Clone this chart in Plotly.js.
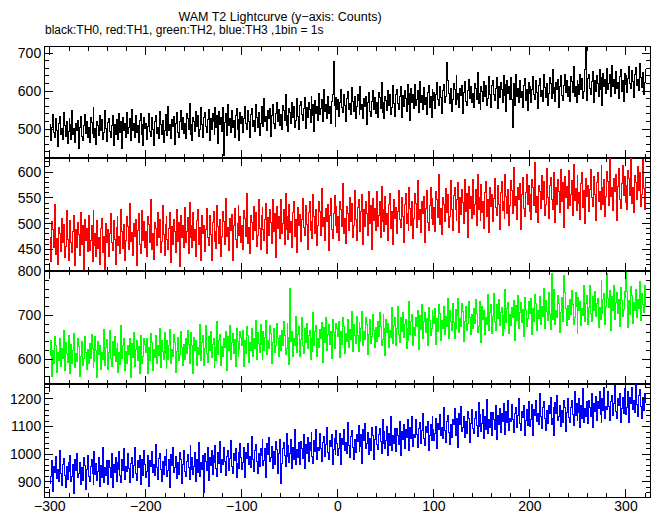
<!DOCTYPE html>
<html>
<head>
<meta charset="utf-8">
<script src="https://cdn.plot.ly/plotly-3.0.1.min.js"></script>
<style>
html,body{margin:0;padding:0;background:#fff;}
#chart{width:652px;height:515px;}
#chart .scatterlayer path{shape-rendering:crispEdges !important;}
</style>
</head>
<body>
<div id="chart"></div>
<script>
// time bins: 1 bin = 1 s, first bin at t = -300 s
const binStart = -300;
const binSize = 1;

const th0 = [
512,469,505,538,492,478,527,497,455,516,533,486,502,473,544,509,482,521,462,494,
528,512,474,549,487,502,465,516,496,523,449,505,533,482,469,509,538,489,520,478,
505,466,530,517,489,558,477,503,461,521,510,483,536,497,526,472,490,548,501,467,
517,529,493,477,510,537,456,513,485,526,506,472,542,490,520,448,531,496,515,479,
544,488,505,528,471,553,496,516,479,537,491,509,466,523,541,485,512,458,532,502,
515,472,508,541,495,481,530,500,458,519,536,489,505,476,547,512,485,524,465,497,
538,522,484,559,497,512,475,526,506,533,459,515,543,492,479,519,548,499,530,488,
515,476,540,527,499,568,487,513,471,531,520,493,546,507,536,482,500,558,511,477,
532,544,508,492,525,552,471,528,500,541,521,487,557,505,535,463,546,511,530,494,
557,430,518,541,484,566,509,529,492,550,504,522,479,536,554,498,525,471,545,515,
534,491,527,560,514,500,549,519,477,538,555,508,524,495,566,531,504,543,484,516,
560,544,506,581,519,534,497,548,528,555,481,537,565,514,501,541,570,521,552,510,
538,499,563,550,522,591,510,536,494,554,543,516,569,530,559,505,523,581,534,500,
562,574,538,522,555,582,501,558,530,571,551,517,587,535,565,493,576,541,560,524,
594,538,555,578,521,603,546,566,529,587,541,559,516,573,591,678,562,508,582,552,
577,534,570,603,557,543,592,562,520,581,598,551,567,538,609,574,547,586,527,559,
592,576,538,613,551,566,529,580,560,587,513,569,597,546,533,573,602,553,584,542,
571,532,596,583,555,624,543,569,527,587,576,549,602,563,592,538,556,614,567,533,
592,604,568,552,585,612,531,588,560,601,581,547,617,565,595,523,606,571,590,554,
617,561,578,601,544,626,569,589,552,610,564,582,539,596,614,558,585,531,605,575,
597,554,590,623,577,563,612,582,540,601,618,571,587,676,629,594,567,606,547,579,
620,604,566,641,579,594,557,608,588,615,541,597,625,574,561,601,630,581,612,570,
595,556,620,607,579,648,567,593,551,611,600,573,626,587,616,562,580,638,591,557,
615,627,591,575,608,635,554,611,583,624,604,570,640,588,618,546,629,594,613,577,
635,579,505,619,562,644,587,607,570,628,582,600,557,614,632,576,603,549,623,593,
612,569,605,638,592,578,627,597,555,616,633,586,602,573,644,609,582,621,562,594,
635,619,581,656,594,609,572,623,603,630,556,612,640,589,576,616,645,596,627,585,
613,574,638,625,597,666,585,611,569,629,618,591,644,605,634,580,598,656,722,575,
632,644,608,592,625,652,571,628,600,641,621,587,657,605,635,563,646,611,630,594,
659,603,620,643,586,668,611,631,594,652,606,624,581,638,656,600,627,573,647,617,
640,597,633,666,620,606,655,625,583,644,661,614,630,601,672,637,610,649,590,622,658
];

const th1 = [
474,427,504,488,454,537,440,471,421,493,480,447,511,464,499,434,456,525,469,428,
492,507,464,444,484,516,419,488,454,503,479,438,522,460,496,410,509,467,490,447,
515,448,468,496,427,526,457,481,437,506,451,473,421,490,511,444,476,412,500,464,
488,437,480,520,464,448,506,470,420,493,514,457,476,442,527,485,452,499,428,467,
514,495,449,539,465,483,438,500,476,508,419,486,520,459,443,491,526,467,504,454,
484,437,514,498,464,547,450,481,431,503,490,457,521,474,509,444,466,535,479,438,
498,513,470,450,490,522,425,494,460,509,485,444,528,466,502,416,515,473,496,453,
531,464,484,512,443,542,473,497,453,522,467,489,437,506,527,460,492,428,516,480,
497,446,489,529,473,457,515,479,429,502,523,466,485,451,536,494,461,508,437,476,
524,505,459,549,475,493,448,510,486,518,429,496,530,469,453,501,536,477,514,464,
496,449,526,510,476,559,462,493,443,515,502,469,533,486,521,456,478,547,491,450,
516,531,488,468,508,540,443,512,478,527,503,462,546,484,520,434,533,491,514,471,
547,480,500,528,459,558,489,513,469,538,483,505,453,522,543,476,508,444,532,496,
517,466,509,549,493,477,535,499,449,522,543,486,505,471,556,514,481,528,457,496,
543,524,478,568,494,512,467,529,505,537,448,515,549,488,472,520,555,496,533,483,
514,467,544,528,494,577,480,511,461,533,520,487,551,504,539,474,496,565,509,468,
532,547,504,484,524,556,459,528,494,543,519,478,562,500,536,450,549,507,530,487,
562,495,515,543,474,573,504,528,484,553,498,520,468,537,558,491,523,459,547,511,
532,481,524,564,508,492,550,514,464,537,558,501,520,486,571,529,496,543,472,511,
558,539,493,583,509,527,482,544,520,552,463,530,564,503,487,535,570,511,548,498,
532,485,562,546,512,595,498,529,479,551,538,505,569,522,557,492,514,583,527,486,
555,570,527,507,547,579,482,551,517,566,542,501,585,523,559,473,572,530,553,510,
585,518,538,566,497,596,527,551,507,576,521,543,491,560,581,514,546,482,570,534,
556,505,548,588,532,516,574,538,488,561,582,525,544,510,595,553,520,567,496,535,
584,565,519,609,535,553,508,570,546,578,489,556,590,529,513,561,596,537,574,524,
556,509,586,570,536,619,522,553,503,575,562,529,593,546,581,516,538,607,551,510,
575,590,547,527,567,599,502,571,537,586,562,521,605,543,579,493,592,550,573,530,
603,536,556,584,515,614,545,569,525,594,539,561,509,578,599,532,564,500,588,552,
574,523,566,606,550,534,592,556,506,579,600,543,562,528,613,571,538,585,514,553,
601,582,536,626,552,570,525,587,563,595,506,573,607,546,530,578,613,554,591,541,
574,527,604,588,554,637,540,571,521,593,580,547,611,564,599,534,556,625,569,528,590
];

const th2 = [
609,642,560,620,590,652,632,569,616,597,647,583,624,602,665,575,637,612,593,655,
603,568,633,590,620,658,580,612,595,646,628,560,607,640,586,601,652,616,576,623,
590,636,602,656,624,580,594,651,620,558,640,610,632,576,616,600,668,586,627,645,
576,614,666,602,582,641,609,652,594,624,636,570,616,587,677,601,632,646,575,618,
591,631,610,648,557,636,603,660,583,621,643,597,628,566,655,625,589,606,646,633,
615,648,566,626,596,658,638,575,622,603,653,589,630,608,671,581,643,618,599,661,
613,578,643,600,630,668,590,622,605,656,638,570,617,650,596,611,662,626,586,633,
600,646,612,666,634,590,604,661,630,568,650,620,642,586,626,610,678,596,637,655,
586,624,676,612,592,651,619,662,604,634,646,580,626,597,687,611,642,656,585,628,
607,647,626,664,573,652,619,676,599,637,659,613,644,582,671,641,605,622,662,649,
632,665,583,643,613,675,655,592,639,620,670,606,647,625,688,598,660,635,616,678,
633,598,663,620,650,688,610,642,625,676,658,590,637,670,616,631,682,646,606,653,
620,666,632,686,654,610,624,681,650,588,762,640,662,606,646,630,698,616,657,675,
606,644,696,632,612,671,639,682,624,654,666,600,646,617,707,631,662,676,605,648,
627,667,646,684,593,672,639,696,619,657,679,633,664,602,691,661,625,642,682,669,
652,685,603,663,633,695,675,612,659,640,690,626,667,645,708,618,680,655,636,698,
653,618,683,640,670,708,630,662,645,696,678,610,657,690,636,651,702,666,626,673,
640,686,652,706,674,630,644,701,670,608,690,660,682,626,666,650,718,636,677,695,
631,669,721,657,637,696,664,707,649,679,691,625,671,642,732,656,687,701,630,673,
655,695,674,712,621,700,667,724,647,685,707,661,692,630,719,689,653,670,710,697,
682,715,633,693,663,725,705,642,689,670,720,656,697,675,738,648,710,685,666,728,
683,648,713,670,700,738,660,692,675,726,708,640,687,720,666,681,732,696,656,703,
670,716,682,736,704,660,674,731,700,638,720,690,712,656,696,680,748,666,707,725,
659,697,749,685,665,724,692,735,677,707,719,653,699,670,760,684,715,729,658,701,
677,717,696,734,643,722,689,746,669,707,729,683,714,652,741,711,675,692,732,719,
705,738,656,716,686,748,728,665,712,693,743,679,720,698,761,671,733,708,689,751,
703,668,796,690,720,758,680,712,695,746,728,660,707,740,686,790,752,716,676,723,
690,736,702,756,724,680,694,751,720,658,740,710,732,676,716,700,768,686,727,745,
679,717,769,705,685,744,712,755,697,727,739,673,719,690,780,704,735,749,678,721,
795,739,718,756,665,744,711,768,691,729,751,705,736,674,763,733,697,714,754,741,
797,755,673,733,703,765,745,682,729,710,760,696,737,715,778,688,750,725,706,768,720
];

const th3 = [
895,919,976,864,956,934,990,913,943,902,1014,930,888,964,984,924,880,954,907,970,
938,996,900,920,962,858,980,940,1004,914,930,970,891,950,906,987,960,873,944,994,
919,901,955,979,930,889,1011,925,967,906,936,987,882,960,915,1023,899,951,923,977,
892,976,950,916,1001,878,964,934,989,902,971,944,1008,923,896,980,940,1020,910,954,
937,1001,947,898,967,988,915,959,1023,931,905,976,952,995,889,941,982,923,1012,964,
915,939,996,884,976,954,1010,933,963,922,1034,950,908,984,1004,944,900,974,927,990,
958,1016,920,940,982,878,1000,960,1024,934,950,990,911,970,926,1007,980,893,964,1014,
939,921,975,999,950,909,1031,945,987,926,956,1007,902,980,935,1043,919,971,943,997,
862,1001,975,941,1026,903,989,959,1014,927,996,969,1033,948,921,1005,965,1045,935,979,
962,1026,972,923,992,1013,940,984,1048,956,930,1001,977,1020,914,966,1007,948,1037,989,
945,969,1026,914,1006,984,1040,963,993,952,1064,980,938,1014,1034,974,930,1004,957,1020,
996,1054,958,978,1020,916,1038,998,1062,972,988,1028,949,1008,964,1045,1018,931,1002,1052,
895,966,1020,1044,995,954,1076,990,1032,971,1001,1052,947,1025,980,1088,964,1016,988,1042,
962,1046,1020,986,1071,948,1034,1004,1059,972,1041,1014,1078,993,966,1050,1010,1090,980,1024,
1012,1076,1022,973,1042,1063,990,1034,1098,1006,980,1051,1027,1070,964,1016,1057,998,1087,1039,
995,1019,1076,964,1056,1034,1090,1013,1043,1002,1114,1030,988,1064,1084,1024,980,1054,1007,1070,
1046,1104,1008,1028,1070,966,1088,1048,1112,1022,1038,1078,999,1058,1014,1095,1068,981,1052,1102,
1034,1016,1070,1094,1045,1004,1126,1040,1082,1021,1051,1102,997,1075,1030,1138,1014,1066,1038,1092,
1010,1094,1068,1034,1119,996,1082,1052,1107,1020,1089,1062,1126,1041,1014,1098,1058,1138,1028,1072,
1062,1126,1072,1023,1092,1113,1040,1084,1148,1056,1030,1101,1077,1120,1014,1066,1107,1048,1137,1089,
1050,1074,1131,1019,1111,1089,1145,1068,1098,1057,1169,1085,1043,1119,1139,1079,1035,1109,1062,1125,
1106,1164,1068,1088,1130,1026,1148,1108,1172,1082,1098,1138,1059,1118,1074,1155,1128,1041,1112,1162,
1094,1076,1130,1154,1105,1064,1186,1100,1142,1081,1111,1162,1057,1135,1090,1198,1074,1126,1098,1152,
1067,1151,1125,1091,1176,1053,1139,1109,1164,1077,1146,1119,1183,1098,1071,1155,1115,1195,1085,1129,
1117,1181,1127,1078,1147,1168,1095,1139,1203,1111,1085,1156,1132,1175,1069,1121,1162,1103,1192,1144,
1100,1124,1181,1069,1161,1139,1195,1118,1148,1107,1219,1135,1093,1169,1189,1129,1085,1159,1112,1175,
1146,1204,1108,1128,1170,1066,1188,1148,1212,1122,1138,1178,1099,1158,1114,1195,1168,1081,1152,1202,
1134,1116,1170,1194,1145,1104,1226,1140,1182,1121,1151,1202,1097,1175,1130,1238,1114,1166,1138,1192,
1112,1196,1170,1136,1221,1098,1184,1154,1209,1122,1191,1164,1228,1143,1116,1200,1160,1240,1130,1174,
1162,1226,1172,1123,1192,1213,1140,1184,1248,1156,1130,1201,1177,1220,1114,1166,1207,1148,1237,1189,
1145,1169,1226,1114,1206,1184,1240,1163,1193,1152,1264,1180,1138,1214,1234,1174,1130,1204,1157,1220,1186
];

const seriesData = [th0, th1, th2, th3];
const seriesColors = ['#000000', '#ff0000', '#00ff00', '#0000ff'];
const seriesNames = ['TH0', 'TH1', 'TH2', 'TH3'];

const xRange = [-305, 325];
const yRanges = [[425, 716], [408, 628], [543, 801], [845, 1254]];
const yDticks = [100, 50, 100, 100];
const yMinor = [20, 10, 20, 20];
const domains = [[0.754, 1.0], [0.502, 0.754], [0.251, 0.502], [0.0, 0.251]];

const titleText = 'WAM T2 Lightcurve (y\u2212axis: Counts)';
const subText = 'black:TH0, red:TH1, green:TH2, blue:TH3 ,1bin = 1s';

const FONT = 'Liberation Sans, Arial, Helvetica, sans-serif';

const traces = seriesData.map((d, i) => ({
  type: 'scatter', mode: 'lines',
  x0: binStart, dx: binSize, y: d,
  name: seriesNames[i],
  line: {color: seriesColors[i], width: 1, shape: 'hv'},
  xaxis: i === 0 ? 'x' : 'x' + (i + 1),
  yaxis: i === 0 ? 'y' : 'y' + (i + 1),
  showlegend: false, hoverinfo: 'skip'
}));

const layout = {
  width: 652, height: 515,
  margin: {l: 45, r: 2, t: 47, b: 18},
  paper_bgcolor: '#fff', plot_bgcolor: '#fff',
  font: {family: FONT, size: 14, color: '#000'},
  showlegend: false,
  title: {text: titleText, font: {family: FONT, size: 12.5, color: '#000'},
          x: 280 / 652, xanchor: 'center', xref: 'container',
          y: 1 - 17 / 515, yanchor: 'middle', yref: 'container'},
  annotations: [{text: subText, xref: 'paper', yref: 'paper',
                 x: -2 / 605, y: 1 + 17 / 450, xanchor: 'left', yanchor: 'middle',
                 showarrow: false, font: {family: FONT, size: 12, color: '#000'}}]
};

for (let i = 0; i < 4; i++) {
  const xk = i === 0 ? 'xaxis' : 'xaxis' + (i + 1);
  const yk = i === 0 ? 'yaxis' : 'yaxis' + (i + 1);
  layout[xk] = {
    range: xRange, anchor: i === 0 ? 'y' : 'y' + (i + 1),
    showgrid: false, zeroline: false, showline: true, linecolor: '#000', linewidth: 1,
    mirror: 'allticks', ticks: 'inside', ticklen: 8, tickcolor: '#000', tickwidth: 1,
    dtick: 100, tick0: 0, showticklabels: i === 3, ticklabelstandoff: -4,
    tickfont: {family: FONT, size: 14, color: '#000'},
    minor: {dtick: 20, tick0: 0, ticks: 'inside', ticklen: 4, tickcolor: '#000', showgrid: false},
    matches: i === 0 ? undefined : 'x'
  };
  layout[yk] = {
    range: yRanges[i], domain: domains[i], anchor: i === 0 ? 'x' : 'x' + (i + 1),
    showgrid: false, zeroline: false, showline: true, linecolor: '#000', linewidth: 1,
    mirror: 'allticks', ticks: 'inside', ticklen: 8, tickcolor: '#000', tickwidth: 1,
    dtick: yDticks[i], tick0: 0,
    tickfont: {family: FONT, size: 14, color: '#000'},
    minor: {dtick: yMinor[i], tick0: 0, ticks: 'inside', ticklen: 4, tickcolor: '#000', showgrid: false}
  };
}

Plotly.newPlot('chart', traces, layout, {displayModeBar: false, staticPlot: true});
</script>
</body>
</html>
